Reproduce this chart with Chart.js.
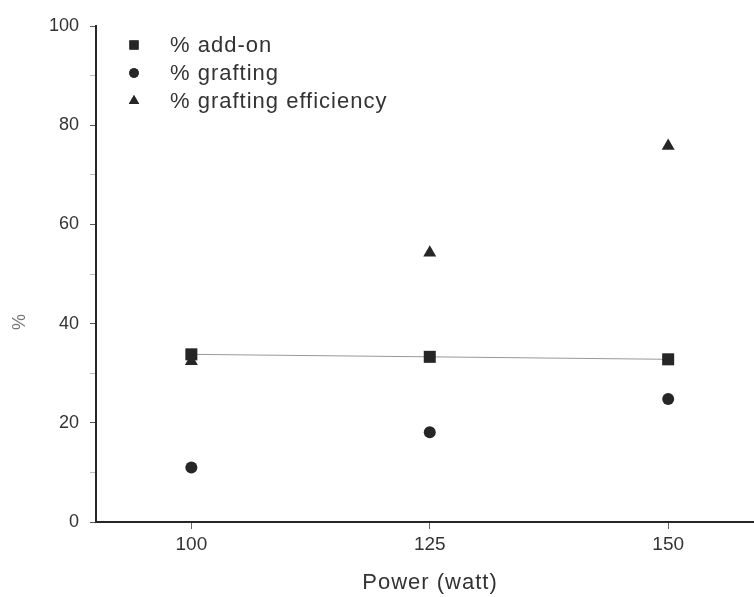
<!DOCTYPE html>
<html>
<head>
<meta charset="utf-8">
<script src="https://cdn.jsdelivr.net/npm/chart.js@4"></script>
<style>
  html, body { margin: 0; padding: 0; background: #fff; }
  #wrap { width: 754px; height: 597px; }
</style>
</head>
<body>
<div id="wrap"><canvas id="chart" width="754" height="597"></canvas></div>
<script>
// values
const powerWatts = [100, 125, 150];
const addOn = [33.8, 33.3, 32.8];
const grafting = [11.0, 18.1, 24.8];
const graftEff = [32.4, 54.3, 75.8];
const seriesNames = ["% add-on", "% grafting", "% grafting efficiency"];
const xTicks = [100, 125, 150];
const yTitle = "%";
const xTitle = "Power (watt)";

const INK = "#262626";
const FONT = "'Liberation Sans', Arial, sans-serif";

function toPoints(vals) {
    return powerWatts.map((x, i) => ({ x: x, y: vals[i] }));
}

// legend inside the plot + axis titles
const extras = {
    id: "extras",
    afterDraw(chart) {
        const ctx = chart.ctx;
        ctx.save();
        ctx.font = "22px " + FONT;
        ctx.letterSpacing = "1px";
        ctx.textBaseline = "middle";
        const rows = [45, 73, 101];
        const sizes = { rect: 6.5, circle: 4.8, triangle: 6 };
        chart.data.datasets.forEach((ds, i) => {
            ctx.fillStyle = INK;
            Chart.helpers.drawPoint(ctx, {
                pointStyle: ds.pointStyle,
                radius: sizes[ds.pointStyle],
                borderWidth: 0
            }, 134, rows[i]);
            ctx.fill();
            ctx.fillStyle = "#333";
            ctx.fillText(ds.label, 170, rows[i] + 1);
        });

        // x title
        ctx.textAlign = "center";
        ctx.fillText(xTitle, 430, 583);

        // y title
        ctx.letterSpacing = "0px";
        ctx.translate(20, 322);
        ctx.rotate(-Math.PI / 2);
        ctx.fillStyle = "#777";
        ctx.font = "18px " + FONT;
        ctx.fillText(yTitle, 0, 0);
        ctx.restore();
    }
};

new Chart(document.getElementById("chart"), {
    type: "scatter",
    data: {
        datasets: [
            {
                label: seriesNames[0],
                data: toPoints(addOn),
                showLine: true,
                borderColor: "#999",
                borderWidth: 1,
                pointStyle: "rect",
                pointRadius: 8.5,
                backgroundColor: INK,
                pointBorderWidth: 0
            },
            {
                label: seriesNames[1],
                data: toPoints(grafting),
                pointStyle: "circle",
                pointRadius: 6,
                backgroundColor: INK,
                pointBorderWidth: 0
            },
            {
                label: seriesNames[2],
                data: toPoints(graftEff),
                pointStyle: "triangle",
                pointRadius: 7.5,
                backgroundColor: INK,
                pointBorderWidth: 0
            }
        ]
    },
    options: {
        responsive: false,
        animation: false,
        layout: { autoPadding: false, padding: { top: 26, right: 0, bottom: 0, left: 0 } },
        plugins: {
            legend: { display: false },
            tooltip: { enabled: false }
        },
        scales: {
            x: {
                type: "linear",
                min: 90,
                max: 159,
                afterBuildTicks(scale) {
                    scale.ticks = xTicks.map(v => ({ value: v }));
                },
                afterFit(scale) {
                    scale.height = 75;
                },
                grid: { drawOnChartArea: false, tickLength: 7, tickColor: "#666" },
                border: { color: INK, width: 2 },
                ticks: {
                    color: "#333",
                    font: { size: 19, family: FONT },
                    padding: 4,
                    maxRotation: 0
                }
            },
            y: {
                min: 0,
                max: 100,
                afterFit(scale) { scale.width = 96; },
                grid: {
                    drawOnChartArea: false,
                    tickLength: 6,
                    tickColor: ctx => (ctx.tick && ctx.tick.value % 20 === 0) ? "#555" : "#bbb"
                },
                border: { color: INK, width: 2 },
                ticks: {
                    stepSize: 10,
                    color: "#333",
                    font: { size: 18, family: FONT },
                    padding: 11,
                    callback: v => (v % 20 === 0 ? v : "")
                }
            }
        }
    },
    plugins: [extras]
});
</script>
</body>
</html>
